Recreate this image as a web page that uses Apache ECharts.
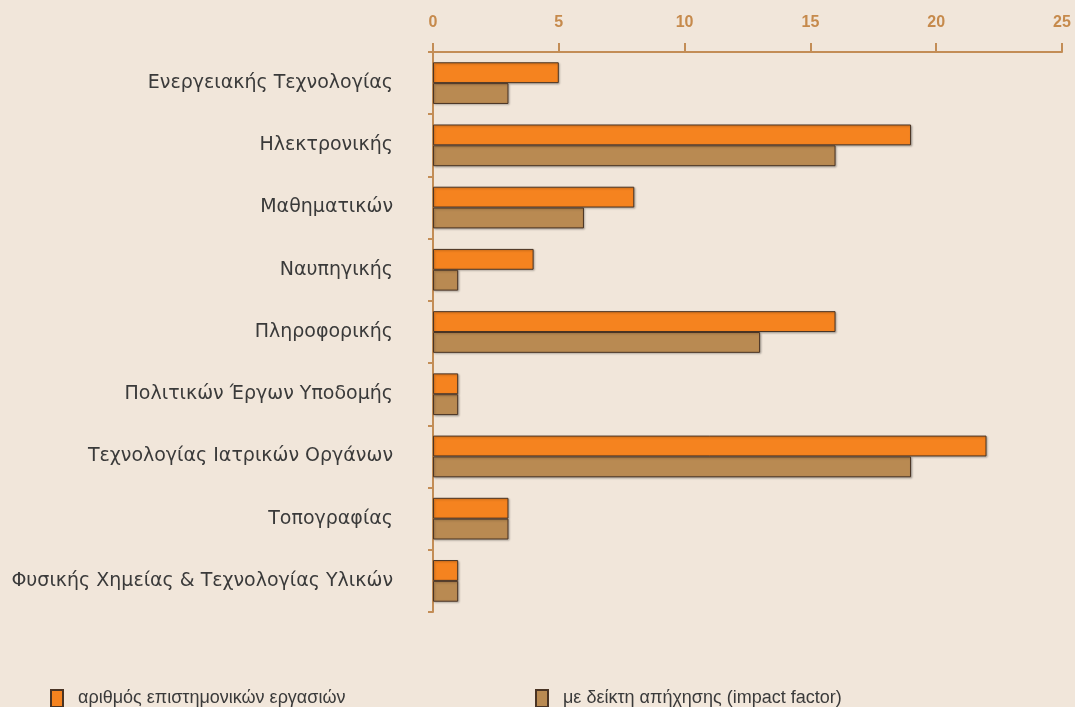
<!DOCTYPE html>
<html lang="el">
  <head>
    <meta charset="utf-8">
    <title>chart</title>
    <script src="https://cdn.jsdelivr.net/npm/echarts@6/dist/echarts.min.js"></script>
    <style>
      html, body { margin: 0; padding: 0; background: #f1e6da; }
      #chart { width: 1075px; height: 707px; }
    </style>
    <script>
      var categories = [
        "Ενεργειακής Τεχνολογίας",
        "Ηλεκτρονικής",
        "Μαθηματικών",
        "Ναυπηγικής",
        "Πληροφορικής",
        "Πολιτικών Έργων Υποδομής",
        "Τεχνολογίας Ιατρικών Οργάνων",
        "Τοπογραφίας",
        "Φυσικής Χημείας & Τεχνολογίας Υλικών"
      ];
      var papers = [5, 19, 8, 4, 16, 1, 22, 3, 1];
      var withImpact = [3, 16, 6, 1, 13, 1, 19, 3, 1];
      var seriesNames = ["αριθμός επιστημονικών εργασιών", "με δείκτη απήχησης (impact factor)"];

      var axisColor = "#c38d56";

      function ini_chart(){
        var myChart = echarts.init(document.getElementById("chart"));
        var barStyle = function(color){
          return {
            color: color,
            borderColor: "#4a3424",
            borderWidth: 1,
            shadowColor: "rgba(0,0,0,0.25)",
            shadowBlur: 2,
            shadowOffsetX: 1,
            shadowOffsetY: 1
          };
        };
        var legendText = {fontFamily: "Liberation Sans", fontSize: 18, color: "#3a3a3a",
                          padding: [0, 0, 0, 10]};

        myChart.setOption({
          backgroundColor: "#f1e6da",
          animation: false,
          grid: {left: 433, right: 13, top: 52, bottom: 95},
          legend: [
            {data: [seriesNames[0]], left: 45, top: 684, icon: "rect", itemWidth: 12, itemHeight: 17,
             textStyle: legendText},
            {data: [seriesNames[1]], left: 530, top: 684, icon: "rect", itemWidth: 12, itemHeight: 17,
             textStyle: legendText}
          ],
          xAxis: {
            type: "value",
            position: "top",
            min: 0,
            max: 25,
            interval: 5,
            axisLine: {show: true, lineStyle: {color: axisColor, width: 2}},
            axisTick: {show: true, length: 9, lineStyle: {color: axisColor, width: 2}},
            axisLabel: {color: "#c68a4c", fontWeight: "bold", fontSize: 16,
                        fontFamily: "Liberation Sans", margin: 21},
            splitLine: {show: false}
          },
          yAxis: {
            type: "category",
            inverse: true,
            data: categories,
            axisLine: {show: true, lineStyle: {color: axisColor, width: 2}},
            axisTick: {show: true, length: 5, lineStyle: {color: axisColor, width: 2}},
            axisLabel: {color: "#3a3a3a", fontSize: 19, fontFamily: "DejaVu Sans", margin: 40}
          },
          series: [
            {name: seriesNames[0], type: "bar", data: papers, barGap: "0%",
             barCategoryGap: "33%", itemStyle: barStyle("#f5831f")},
            {name: seriesNames[1], type: "bar", data: withImpact, barGap: "0%",
             barCategoryGap: "33%", itemStyle: barStyle("#b98a52")}
          ]
        });
      }

      window.onload = ini_chart;
    </script>
  </head>
  <body>
    <div id="chart"></div>
  </body>
</html>
